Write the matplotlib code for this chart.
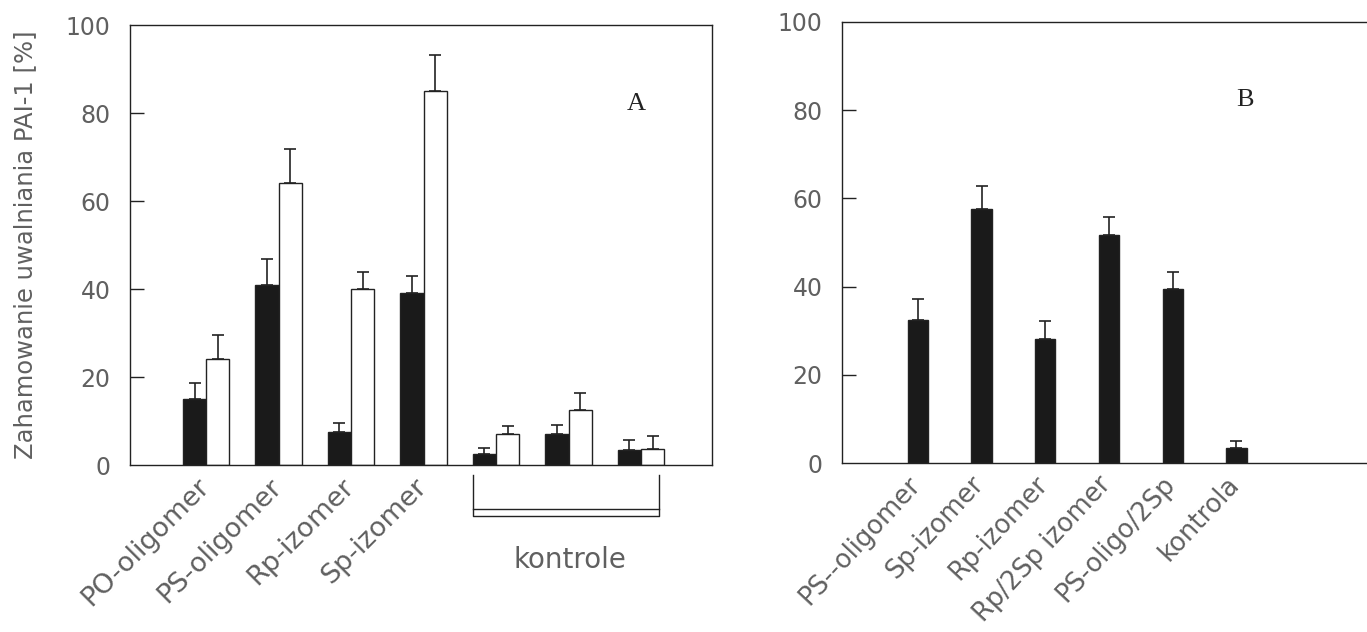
import matplotlib
matplotlib.use('Agg')
import matplotlib.pyplot as plt
import matplotlib.transforms as mtransforms
import numpy as np

plt.rcParams['font.family'] = ['DejaVu Sans']

# panel A: black = first measurement, white = second
labels_a = ['PO-oligomer', 'PS-oligomer', 'Rp-izomer', 'Sp-izomer']
black_a = [15, 41, 7.6, 39, 2.4, 7.0, 3.4]
black_a_err = [3.7, 5.8, 2.0, 3.9, 1.5, 2.0, 2.2]
white_a = [24, 64, 40, 85, 7.0, 12.4, 3.6]
white_a_err = [5.6, 7.8, 3.9, 8.1, 1.9, 3.9, 2.9]

# panel B
labels_b = ['PS--oligomer', 'Sp-izomer', 'Rp-izomer', 'Rp/2Sp izomer', 'PS-oligo/2Sp', 'kontrola']
vals_b = [32.4, 57.6, 28.1, 51.8, 39.4, 3.3]
err_b = [4.9, 5.1, 4.1, 3.9, 3.9, 1.8]

ink = '#222222'
txt = '#606060'
w = 0.32

fig = plt.figure(figsize=(13.67, 6.32), dpi=100)
ax1 = fig.add_axes([0.0951, 0.2642, 0.4258, 0.6962])
ax2 = fig.add_axes([0.616, 0.2674, 0.384, 0.6978])


def style(ax):
    ax.set_ylim(0, 100)
    ax.set_yticks([0, 20, 40, 60, 80, 100])
    ax.tick_params(axis='y', direction='in', length=10, width=1, color=ink,
                   pad=14, labelsize=17, labelcolor=txt)
    ax.tick_params(axis='x', length=0, labelcolor=txt, pad=6)
    for s in ax.spines.values():
        s.set_color(ink)
        s.set_linewidth(1)
    # no tick mark at 0 / 100 (drawn by spines)
    ticks = ax.yaxis.get_major_ticks()
    ticks[0].tick1line.set_visible(False)
    ticks[-1].tick1line.set_visible(False)


def shift_labels(ax, dx):
    off = mtransforms.ScaledTranslation(dx / 72, 0, fig.dpi_scale_trans)
    for lab in ax.get_xticklabels():
        lab.set_transform(lab.get_transform() + off)


# ---- panel A ----
xa = np.arange(len(black_a))
ax1.bar(xa - w / 2, black_a, w, color='#1a1a1a', edgecolor=ink, linewidth=1)
ax1.bar(xa + w / 2, white_a, w, color='white', edgecolor=ink, linewidth=1)
ax1.errorbar(xa - w / 2, black_a, yerr=[np.zeros(len(black_a)), black_a_err],
             fmt='none', ecolor=ink, elinewidth=1.2, capsize=4.5, capthick=1.2)
ax1.errorbar(xa + w / 2, white_a, yerr=[np.zeros(len(white_a)), white_a_err],
             fmt='none', ecolor=ink, elinewidth=1.2, capsize=4.5, capthick=1.2)
ax1.set_xlim(-1.05, 6.98)
style(ax1)
ax1.set_xticks(xa[:len(labels_a)])
ax1.set_xticklabels(labels_a, rotation=45, ha='right', va='top',
                    rotation_mode='anchor', fontsize=19.5)
shift_labels(ax1, -7)
ax1.set_ylabel('Zahamowanie uwalniania PAI-1 [%]', fontsize=17.5, color=txt)
ax1.yaxis.set_label_coords(-0.16, 0.5)
ax1.text(0.87, 0.82, 'A', transform=ax1.transAxes, fontsize=19,
         family='Liberation Serif', color=ink, ha='center', va='center')

# bracket under the control groups
bl, br = 3.68, 6.25
ax1.plot([bl, bl, br, br], [-2.3, -11.6, -11.6, -2.3], color=ink, lw=1, clip_on=False)
ax1.plot([bl, br], [-10, -10], color=ink, lw=1, clip_on=False)
ax1.text(5.02, -21.6, 'kontrole', fontsize=20, color=txt, ha='center', va='center')

# ---- panel B ----
xb = np.arange(len(vals_b))
ax2.bar(xb, vals_b, w, color='#1a1a1a', edgecolor=ink, linewidth=1)
ax2.errorbar(xb, vals_b, yerr=[np.zeros(len(vals_b)), err_b],
             fmt='none', ecolor=ink, elinewidth=1.2, capsize=4.5, capthick=1.2)
ax2.set_xlim(-1.19, 7.05)
style(ax2)
ax2.spines['right'].set_visible(False)
ax2.set_xticks(xb)
ax2.set_xticklabels(labels_b, rotation=47, ha='right', va='top',
                    rotation_mode='anchor', fontsize=18.5)
shift_labels(ax2, -8)
ax2.text(0.768, 0.823, 'B', transform=ax2.transAxes, fontsize=19,
         family='Liberation Serif', color=ink, ha='center', va='center')

fig.savefig('out.png', dpi=100)
